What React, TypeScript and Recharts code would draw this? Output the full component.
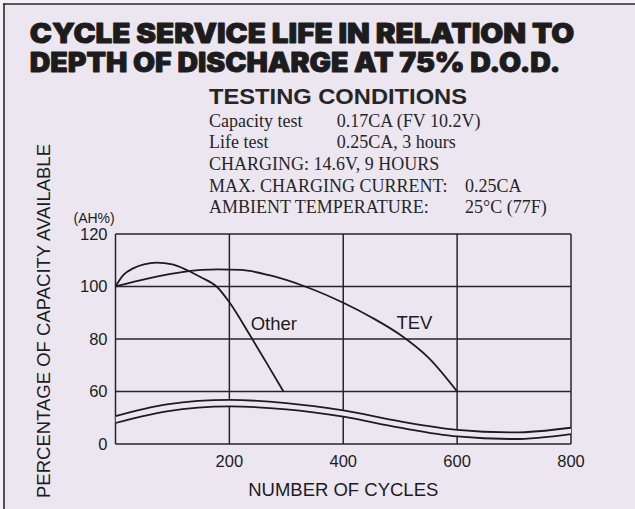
import React from 'react';
import { ComposedChart, Line, Area, XAxis, YAxis, CartesianGrid, ReferenceDot } from 'recharts';

// ---- data ----
const otherCycles = [0, 14, 31, 50, 72, 100, 125, 150, 178, 200, 236, 265, 295];
const otherCapacity = [100, 104.4, 106.9, 108.4, 109.1, 108.4, 106.3, 103.5, 99.9, 94, 81.5, 71, 60];

const tevCycles = [0, 60, 120, 180, 220, 270, 333, 400, 450, 500, 550, 600];
const tevCapacity = [100, 103.2, 105.6, 106.5, 106.3, 104.3, 100, 93.8, 88.2, 81.6, 72.8, 60];

// axis-break symbol (drawn between the 60 gridline and the "0" baseline)
const breakCycles = [0, 90, 200, 300, 400, 500, 600, 700, 800];
const breakUpper = [50.6, 55.1, 56.8, 55.6, 52.8, 48.6, 45.4, 44.4, 46.2];
const breakLower = [48.0, 52.4, 54.3, 53.2, 50.4, 46.2, 42.9, 41.9, 43.8];

const xTicks = [0, 200, 400, 600, 800];
const xTickLabels = ['', '200', '400', '600', '800'];
const yTicks = [40, 60, 80, 100, 120];
const yTickLabels = ['0', '60', '80', '100', '120'];

const titleLines = ['CYCLE SERVICE LIFE IN RELATION TO', 'DEPTH OF DISCHARGE AT 75% D.O.D.'];
const conditionsTitle = 'TESTING CONDITIONS';

// ---- derived tables ----
const otherData = otherCycles.map((c, i) => ({ cycles: c, other: otherCapacity[i] }));
const tevData = tevCycles.map((c, i) => ({ cycles: c, tev: tevCapacity[i] }));
const breakData = breakCycles.map((c, i) => ({
  cycles: c,
  hi: breakUpper[i],
  lo: breakLower[i],
  band: [breakLower[i], breakUpper[i]],
}));

const BG = '#ece6f1';
const INK = '#1c1c1c';
const SANS = "'Liberation Sans', Arial, Helvetica, sans-serif";
const SERIF = "'Liberation Serif', 'Times New Roman', serif";
const HEAVY = "Inter, Roboto, 'Liberation Sans', sans-serif";

const YLabel = (props: any) => {
  const vb = props.viewBox || { x: 0, y: 234, width: 115, height: 210 };
  const cx = vb.x + 43.5;
  const cy = vb.y + vb.height / 2 - 18;
  return (
    <text
      x={cx}
      y={cy}
      transform={`rotate(-90, ${cx}, ${cy})`}
      textAnchor="middle"
      dominantBaseline="central"
      fontSize={18.5}
      fontFamily={SANS}
      fill={INK}
    >
      PERCENTAGE OF CAPACITY AVAILABLE
    </text>
  );
};

const XLabel = (props: any) => {
  const vb = props.viewBox || { x: 115, y: 444, width: 456, height: 30 };
  return (
    <text
      x={vb.x + vb.width / 2}
      y={vb.y + 51.5}
      textAnchor="middle"
      fontSize={18.5}
      fontFamily={SANS}
      fill={INK}
    >
      NUMBER OF CYCLES
    </text>
  );
};

export default function App() {
  return (
    <div
      style={{
        position: 'absolute',
        left: 0,
        top: 0,
        width: 635,
        height: 509,
        background: '#f4f1f6',
        fontFamily: SANS,
        overflow: 'hidden',
      }}
    >
      <svg width={635} height={509} style={{ position: 'absolute', left: 0, top: 0 }}>
        <rect x={4} y={4} width={631} height={505} fill={BG} />
        <line x1={3.2} y1={4} x2={635} y2={4} stroke="#2a2a2a" strokeWidth={1.6} />
        <line x1={4} y1={3.2} x2={4} y2={509} stroke="#2a2a2a" strokeWidth={1.6} />
      </svg>

      <div style={{ position: 'absolute', left: 0, top: 0 }}>
        <ComposedChart
          width={635}
          height={509}
          margin={{ top: 234, right: 64, bottom: 35, left: 0 }}
        >
          <CartesianGrid stroke="#262626" strokeWidth={1.5} strokeDasharray="" />
          <XAxis
            type="number"
            dataKey="cycles"
            domain={[0, 800]}
            ticks={xTicks}
            tickFormatter={(v: number) => xTickLabels[xTicks.indexOf(v)]}
            axisLine={false}
            tickLine={false}
            tickMargin={5}
            height={30}
            tick={{ fontSize: 16.5, fill: INK, fontFamily: SANS }}
            allowDataOverflow
            label={<XLabel />}
          />
          <YAxis
            type="number"
            domain={[40, 120]}
            ticks={yTicks}
            tickFormatter={(v: number) => yTickLabels[yTicks.indexOf(v)]}
            axisLine={false}
            tickLine={false}
            width={115.5}
            tick={{ fontSize: 16.5, fill: INK, fontFamily: SANS }}
            allowDataOverflow
            label={<YLabel />}
          />
          <Area
            data={breakData}
            dataKey="band"
            type="monotone"
            fill={BG}
            fillOpacity={1}
            stroke="none"
            isAnimationActive={false}
            activeDot={false}
          />
          <Line data={breakData} dataKey="hi" type="monotone" stroke={INK} strokeWidth={1.8} dot={false} isAnimationActive={false} />
          <Line data={breakData} dataKey="lo" type="monotone" stroke={INK} strokeWidth={1.8} dot={false} isAnimationActive={false} />
          <Line data={otherData} dataKey="other" type="monotone" stroke={INK} strokeWidth={1.8} dot={false} isAnimationActive={false} />
          <Line data={tevData} dataKey="tev" type="monotone" stroke={INK} strokeWidth={1.8} dot={false} isAnimationActive={false} />
          <ReferenceDot
            x={278}
            y={85.9}
            r={0}
            fill="none"
            stroke="none"
            label={{ value: 'Other', position: 'center', fontSize: 18.5, fill: INK, fontFamily: SANS }}
          />
          <ReferenceDot
            x={525}
            y={86.4}
            r={0}
            fill="none"
            stroke="none"
            label={{ value: 'TEV', position: 'center', fontSize: 18.5, fill: INK, fontFamily: SANS }}
          />
        </ComposedChart>
      </div>

      <svg
        width={635}
        height={509}
        style={{ position: 'absolute', left: 0, top: 0, pointerEvents: 'none' }}
      >
        <g
          fill={INK}
          stroke={INK}
          strokeWidth={0.9}
          strokeLinejoin="round"
          fontFamily={HEAVY}
          fontWeight={900}
          fontSize={26.5}
        >
          <text x={29.8} y={43.2} textLength={544.5} lengthAdjust="spacingAndGlyphs">
            {titleLines[0]}
          </text>
          <text x={29.8} y={72.2} textLength={530.5} lengthAdjust="spacingAndGlyphs">
            {titleLines[1]}
          </text>
        </g>
        <text
          x={209}
          y={103.5}
          fill="#262626"
          fontFamily={SANS}
          fontWeight="bold"
          fontSize={22.5}
          textLength={258}
          lengthAdjust="spacingAndGlyphs"
        >
          {conditionsTitle}
        </text>
        <g fill="#262626" fontFamily={SERIF} fontSize={18}>
          <text x={209} y={126.7}>Capacity test</text>
          <text x={336.7} y={126.7}>0.17CA (FV 10.2V)</text>
          <text x={209} y={148.3}>Life test</text>
          <text x={336.7} y={148.3}>0.25CA, 3 hours</text>
          <text x={209} y={170}>CHARGING: 14.6V, 9 HOURS</text>
          <text x={209} y={191.7}>MAX. CHARGING CURRENT:</text>
          <text x={465} y={191.7}>0.25CA</text>
          <text x={209} y={213.3}>AMBIENT TEMPERATURE:</text>
          <text x={465} y={213.3}>25°C (77F)</text>
        </g>
        <text x={73.5} y={222.5} fill={INK} fontFamily={SANS} fontSize={14}>
          (AH%)
        </text>
      </svg>
    </div>
  );
}
